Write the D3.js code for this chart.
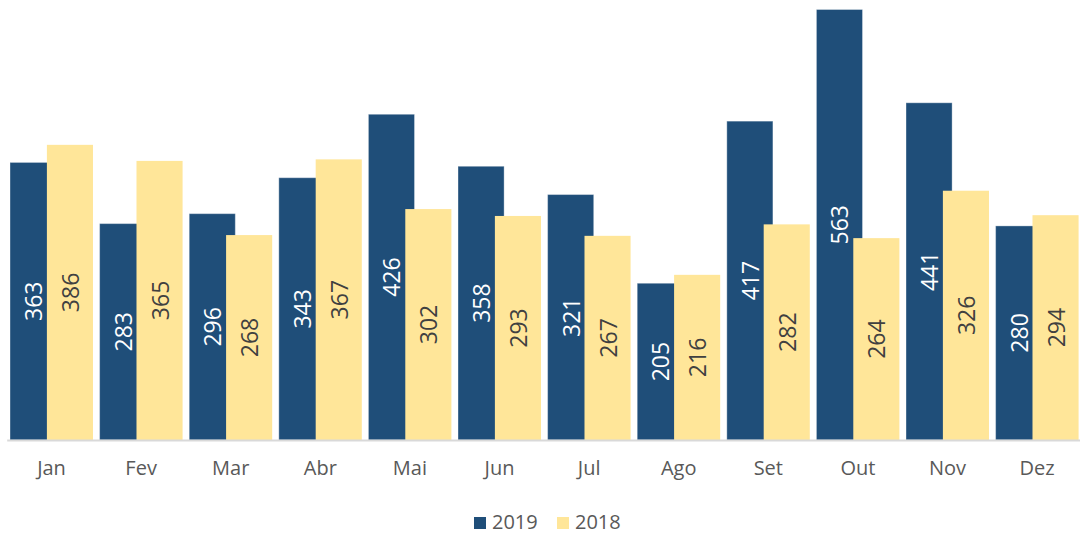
<!DOCTYPE html>
<html>
<head>
<meta charset="utf-8">
<script src="https://cdn.jsdelivr.net/npm/d3@7"></script>
<style>
  body { margin: 0; background: #fff; }
  svg { display: block; }
</style>
</head>
<body>
<script>
var months = ["Jan", "Fev", "Mar", "Abr", "Mai", "Jun", "Jul", "Ago", "Set", "Out", "Nov", "Dez"];
var series = ["2019", "2018"];
var values2019 = [363, 283, 296, 343, 426, 358, 321, 205, 417, 563, 441, 280];
var values2018 = [386, 365, 268, 367, 302, 293, 267, 216, 282, 264, 326, 294];
var colors = ["#1f4e79", "#ffe699"];
var labelColors = ["#ffffff", "#404040"];

var svg = d3.select("body").append("svg")
    .attr("width", 1080)
    .attr("height", 538);

var baseY = 440;

var x = d3.scaleBand()
    .domain(months)
    .range([6.7, 1081.9])
    .paddingInner(0.074)
    .paddingOuter(0.037);

var y = d3.scaleLinear()
    .domain([0, 563])
    .range([baseY, 9.5]);

// excel style overlap between the two series
var overlap = 0.2;
var barW = x.bandwidth() / (2 - overlap);
var offset = barW * (1 - overlap);

var data = [];
series.forEach(function(s, si) {
  var vals = si === 0 ? values2019 : values2018;
  months.forEach(function(m, i) {
    data.push({ month: m, series: si, value: vals[i] });
  });
});

var bars = svg.append("g");

bars.selectAll("rect")
  .data(data)
  .enter().append("rect")
    .attr("x", function(d) { return x(d.month) + d.series * offset; })
    .attr("y", function(d) { return y(d.value); })
    .attr("width", barW)
    .attr("height", function(d) { return baseY - y(d.value); })
    .attr("fill", function(d) { return colors[d.series]; })
    .attr("stroke", function(d) { return d.series === 0 ? "#ffffff" : "none"; })
    .attr("stroke-opacity", 0.35)
    .attr("stroke-width", 1);

bars.selectAll("text")
  .data(data)
  .enter().append("text")
    .attr("transform", function(d) {
      var cx = x(d.month) + d.series * offset + barW / 2;
      var cy = (y(d.value) + baseY) / 2;
      return "translate(" + cx + "," + cy + ") rotate(-90)";
    })
    .attr("text-anchor", "middle")
    .attr("dominant-baseline", "central")
    .style("font", "23px 'Open Sans', sans-serif")
    .attr("fill", function(d) { return labelColors[d.series]; })
    .text(function(d) { return d.value; });

var xAxis = svg.append("g")
    .attr("transform", "translate(0," + baseY + ")")
    .call(d3.axisBottom(x).tickSize(0).tickSizeOuter(0).tickPadding(21));

xAxis.select(".domain")
    .attr("stroke", "#d9d9d9")
    .attr("stroke-width", 2);

xAxis.selectAll("text")
    .style("font", "20px 'Open Sans', sans-serif")
    .attr("fill", "#595959");

// legend
var legend = svg.append("g")
    .attr("transform", "translate(474,517)");

var item = legend.selectAll("g")
  .data(series)
  .enter().append("g")
    .attr("transform", function(d, i) { return "translate(" + (i * 83) + ",0)"; });

item.append("rect")
    .attr("width", 12)
    .attr("height", 12)
    .attr("fill", function(d, i) { return colors[i]; });

item.append("text")
    .attr("x", 18)
    .attr("y", 12)
    .style("font", "20px 'Open Sans', sans-serif")
    .attr("fill", "#595959")
    .text(function(d) { return d; });
</script>
</body>
</html>
